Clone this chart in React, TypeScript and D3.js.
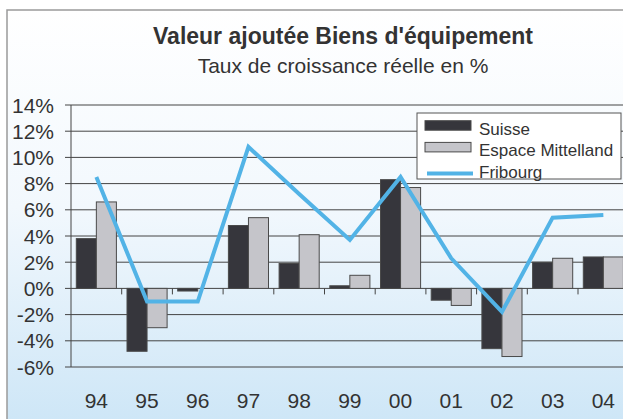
import React, { useEffect, useRef } from 'react'
import * as d3 from 'd3'

const years = ['94', '95', '96', '97', '98', '99', '00', '01', '02', '03', '04']
const suisse = [3.8, -4.8, -0.2, 4.8, 1.9, 0.2, 8.3, -0.9, -4.6, 2.0, 2.4]
const mittelland = [6.6, -3.0, 0.0, 5.4, 4.1, 1.0, 7.7, -1.3, -5.2, 2.3, 2.4]
const fribourg = [8.5, -1.0, -1.0, 10.8, 7.2, 3.7, 8.5, 2.3, -1.8, 5.4, 5.6]
const yTicks = [-6, -4, -2, 0, 2, 4, 6, 8, 10, 12, 14]
const seriesNames = ['Suisse', 'Espace Mittelland']

export default function App() {
  const ref = useRef<SVGSVGElement>(null)

  useEffect(() => {
    const width = 623
    const height = 419
    const margin = { top: 105, right: -6, bottom: 52, left: 71 }
    const font = '"Liberation Sans", Arial, sans-serif'

    const svg = d3.select(ref.current)
    svg.selectAll('*').remove()

    const defs = svg.append('defs')
    const grad = defs.append('linearGradient')
      .attr('id', 'bg').attr('x1', 0).attr('y1', 0).attr('x2', 0).attr('y2', 1)
    grad.append('stop').attr('offset', '0%').attr('stop-color', '#ffffff')
    grad.append('stop').attr('offset', '45%').attr('stop-color', '#f2f8fd')
    grad.append('stop').attr('offset', '100%').attr('stop-color', '#c9e4f6')

    // outer frame
    svg.append('rect')
      .attr('x', 7).attr('y', 10)
      .attr('width', width + 20).attr('height', height + 20)
      .attr('fill', 'url(#bg)')
      .attr('stroke', '#9a9a9a')
      .attr('stroke-width', 1.5)

    svg.append('text')
      .attr('x', 343).attr('y', 44)
      .attr('text-anchor', 'middle')
      .attr('font-family', font).attr('font-weight', 'bold')
      .attr('font-size', 23).attr('fill', '#333')
      .text("Valeur ajoutée Biens d'équipement")

    svg.append('text')
      .attr('x', 343).attr('y', 73)
      .attr('text-anchor', 'middle')
      .attr('font-family', font)
      .attr('font-size', 21).attr('fill', '#333')
      .text('Taux de croissance réelle en %')

    var x = d3.scaleBand()
      .domain(years)
      .range([margin.left, margin.left + 50.7 * years.length])
      .padding(0)
    var xs = d3.scaleBand()
      .domain(seriesNames)
      .range([5.3, x.bandwidth() - 5.3])
      .padding(0)
    var y = d3.scaleLinear()
      .domain([-6, 14])
      .range([height - margin.bottom, margin.top])

    // gridlines
    svg.append('g')
      .selectAll('line')
      .data(yTicks)
      .join('line')
        .attr('x1', margin.left - 6)
        .attr('x2', width)
        .attr('y1', d => y(d))
        .attr('y2', d => y(d))
        .attr('stroke', '#444')
        .attr('stroke-width', 1)

    // left axis
    svg.append('line')
      .attr('x1', margin.left).attr('x2', margin.left)
      .attr('y1', y(14)).attr('y2', y(-6))
      .attr('stroke', '#444')

    svg.append('g')
      .attr('font-family', font).attr('font-size', 21).attr('fill', '#333')
      .selectAll('text')
      .data(yTicks)
      .join('text')
        .attr('x', 54)
        .attr('y', d => y(d))
        .attr('dy', '0.36em')
        .attr('text-anchor', 'end')
        .text(d => d + '%')

    // category ticks on zero line
    svg.append('g')
      .selectAll('line')
      .data(years.slice(1))
      .join('line')
        .attr('x1', d => x(d)!)
        .attr('x2', d => x(d)!)
        .attr('y1', y(0))
        .attr('y2', y(0) + 6)
        .attr('stroke', '#444')

    const rows = years.map((yr, i) => ({ yr, vals: [suisse[i], mittelland[i]] }))
    const fills = ['#36363c', '#c5c5ca']

    svg.append('g')
      .selectAll('g')
      .data(rows)
      .join('g')
        .attr('transform', d => `translate(${x(d.yr)},0)`)
      .selectAll('rect')
      .data(d => d.vals.map((v, j) => ({ v, name: seriesNames[j], j })))
      .join('rect')
        .attr('x', d => xs(d.name)!)
        .attr('width', xs.bandwidth())
        .attr('y', d => y(Math.max(0, d.v)))
        .attr('height', d => Math.abs(y(d.v) - y(0)))
        .attr('fill', d => fills[d.j])
        .attr('stroke', '#4a4a4a')
        .attr('stroke-width', 1)

    const line = d3.line<number>()
      .x((d, i) => x(years[i])! + x.bandwidth() / 2)
      .y(d => y(d))

    svg.append('path')
      .datum(fribourg)
      .attr('d', line)
      .attr('fill', 'none')
      .attr('stroke', '#52b3e6')
      .attr('stroke-width', 4)
      .attr('stroke-linejoin', 'miter')

    svg.append('g')
      .attr('font-family', font).attr('font-size', 21).attr('fill', '#333')
      .selectAll('text')
      .data(years)
      .join('text')
        .attr('x', d => x(d)! + x.bandwidth() / 2)
        .attr('y', 408)
        .attr('text-anchor', 'middle')
        .text(d => d)

    // legend
    const lg = svg.append('g').attr('transform', 'translate(417,113)')
    lg.append('rect')
      .attr('width', 204).attr('height', 66)
      .attr('fill', '#fff').attr('stroke', '#555')
    const items = ['Suisse', 'Espace Mittelland', 'Fribourg']
    items.forEach((name, i) => {
      const base = 21.7 + i * 21.7
      if (i < 2) {
        lg.append('rect')
          .attr('x', 8).attr('y', base - 14)
          .attr('width', 46).attr('height', 9.5)
          .attr('fill', fills[i]).attr('stroke', '#4a4a4a')
      } else {
        lg.append('line')
          .attr('x1', 10).attr('x2', 56)
          .attr('y1', base - 4.5).attr('y2', base - 4.5)
          .attr('stroke', '#52b3e6').attr('stroke-width', 4)
      }
      lg.append('text')
        .attr('x', 62).attr('y', base)
        .attr('font-family', font).attr('font-size', 17).attr('fill', '#333')
        .text(name)
    })
  }, [])

  return (
    <svg
      ref={ref}
      width={623}
      height={419}
      style={{ position: 'absolute', left: 0, top: 0, display: 'block' }}
    />
  )
}
